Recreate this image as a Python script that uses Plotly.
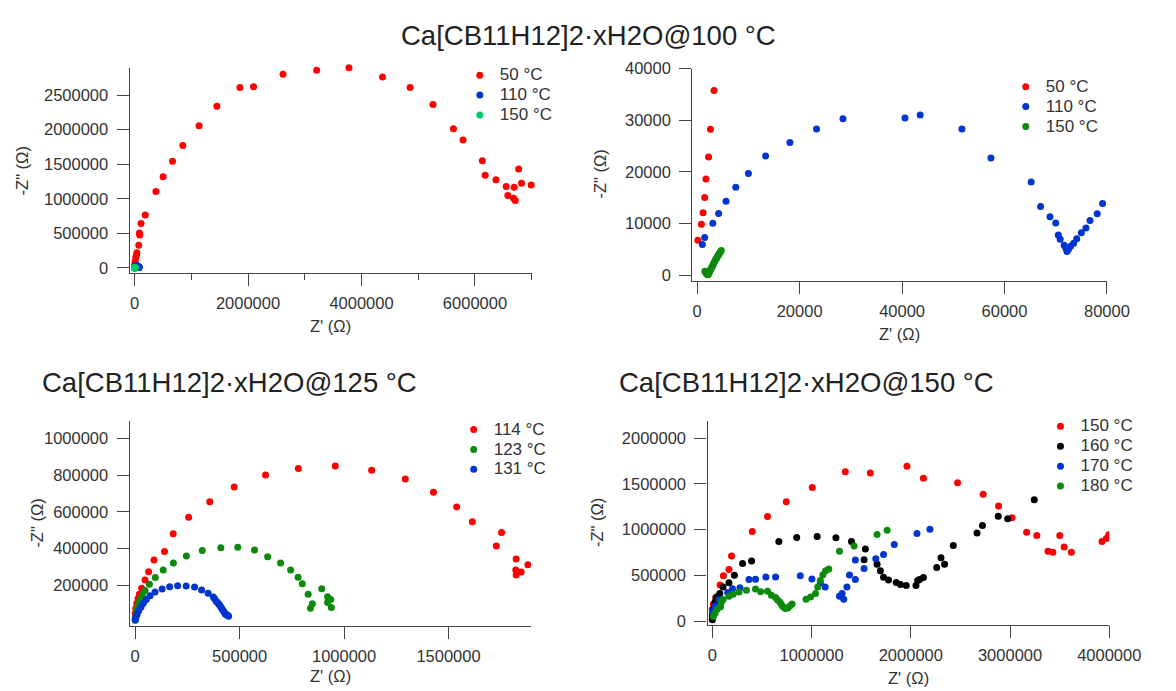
import plotly.graph_objects as go

# ---------------- data (Ohm) ----------------
# Ca[CB11H12]2.xH2O @100 C  (panels 1 and 2 share the data)
t50_zre = [130, 820, 1140, 1460, 1710, 2220, 2590, 3290,
           4600, 11000, 23000, 34000, 40000, 74000, 91000, 86000, 114000, 189000,
           377000, 503000, 669000, 851000, 1137000, 1451000, 1857000, 2097000,
           2617000, 3210000, 3780000, 4370000, 4857000, 5260000, 5620000, 5790000,
           6130000, 6180000, 6370000, 6550000, 6580000, 6690000, 6680000, 6710000,
           6770000, 6820000, 6990000]
t50_zim = [6770, 9870, 12090, 15060, 18610, 22910, 28290, 35760,
           48000, 95000, 152000, 186000, 219000, 329000, 476000, 505000, 643000, 767000,
           1105000, 1319000, 1543000, 1771000, 2057000, 2338000, 2610000, 2619000,
           2800000, 2857000, 2895000, 2760000, 2610000, 2363000, 2012000, 1851000,
           1548000, 1340000, 1274000, 1179000, 1046000, 1165000, 1008000, 975000,
           1430000, 1226000, 1198000]

t110_zre = [1010, 1460, 3040, 4180, 5630, 7530, 10000, 13350, 18100, 23300, 28460,
            40570, 43540, 51680, 57350, 65200, 67040, 68880, 70000, 70500, 70870,
            71650, 72000, 72200, 72500, 72900, 73500, 74100, 75000, 75900, 76700,
            78100, 79150]
t110_zim = [5950, 7280, 10060, 11960, 14300, 17030, 19680, 23100, 25700, 28300, 30320,
            30450, 31020, 28300, 22680, 18070, 13330, 11310, 10100, 7770, 6950,
            5810, 5180, 4610, 5050, 5620, 6190, 7070, 8210, 9160, 10610,
            11880, 13900]

t150_zre = [1500, 1650, 1800, 1950, 2050, 2150, 2250, 2350, 2450, 2600, 2750, 2900,
            3050, 3200, 3350, 3500, 3650, 3800, 3950, 4100, 4250, 4400, 4550, 4700]
t150_zim = [750, 550, 350, 200, 100, 150, 350, 550, 750, 1050, 1350, 1650,
            1950, 2250, 2550, 2800, 3100, 3350, 3600, 3850, 4100, 4350, 4550, 4800]

# Ca[CB11H12]2.xH2O @125 C
t114_zre = [0, 0, 3000, 8000, 14000, 20000, 31000, 47000, 64000, 90000, 140000, 182000,
            256000, 357000, 474000, 624000, 781000, 958000, 1132000, 1293000, 1428000,
            1539000, 1614000, 1754000, 1729000, 1824000, 1822000, 1824000, 1848000, 1880000]
t114_zim = [20000, 46000, 73000, 100000, 127000, 150000, 182000, 227000, 273000, 337000,
            384000, 480000, 570000, 655000, 736000, 802000, 837000, 850000, 827000, 780000,
            707000, 627000, 546000, 487000, 413000, 343000, 282000, 255000, 271000, 311000]

t123_zre = [0, 2000, 5000, 9000, 14000, 20000, 26000, 34000, 47000, 68000, 96000, 134000,
            183000, 245000, 321000, 410000, 491000, 571000, 634000, 696000, 744000, 780000,
            800000, 828000, 839000, 848000, 893000, 921000, 936000, 921000, 939000]
t123_zim = [7000, 23000, 43000, 64000, 86000, 107000, 127000, 146000, 170000, 204000, 241000,
            282000, 321000, 359000, 389000, 404000, 407000, 391000, 355000, 321000, 282000,
            243000, 207000, 150000, 73000, 98000, 180000, 136000, 121000, 104000, 77000]

t131_zre = [0, 3000, 9000, 17000, 28000, 39000, 53000, 71000, 95000, 129000, 165000, 203000,
            244000, 284000, 318000, 349000, 374000, 380000, 388000, 395000, 401000, 407000,
            413000, 418000, 424000, 428000, 432000, 438000, 444000, 447000]
t131_zim = [9000, 23000, 39000, 59000, 80000, 100000, 121000, 141000, 162000, 179000, 191000,
            196000, 195000, 189000, 173000, 155000, 134000, 125000, 112000, 103000, 95000, 85000,
            75000, 65000, 55000, 48000, 41000, 37000, 34000, 30000]

# Ca[CB11H12]2.xH2O @150 C
s150_zre = [0, 10000, 33000, 78000, 111000, 167000, 193000, 402000, 556000, 745000, 1007000,
            1340000, 1592000, 1961000, 2127000, 2471000, 2729000, 2884000, 3020000, 3167000,
            3270000, 3383000, 3431000, 3501000, 3545000, 3618000, 3927000, 3971000, 3995000]
s150_zim = [129000, 186000, 254000, 393000, 496000, 564000, 711000, 979000, 1143000, 1304000,
            1461000, 1632000, 1618000, 1693000, 1561000, 1511000, 1386000, 1258000, 1129000,
            971000, 935000, 763000, 753000, 935000, 810000, 753000, 871000, 903000, 943000]

s160_zre = [0, 0, 3000, 10000, 23000, 29000, 42000, 75000, 108000, 167000, 222000, 304000,
            395000, 670000, 850000, 1056000, 1245000, 1402000, 1542000, 1529000, 1660000,
            1693000, 1725000, 1775000, 1853000, 1895000, 1954000, 2052000, 2069000, 2088000,
            2127000, 2261000, 2304000, 2340000, 2428000, 2667000, 2722000, 2881000, 2976000,
            3244000]
s160_zim = [14000, 50000, 86000, 129000, 175000, 211000, 264000, 300000, 371000, 418000,
            500000, 629000, 657000, 871000, 914000, 925000, 911000, 871000, 789000, 671000,
            621000, 550000, 479000, 450000, 421000, 400000, 389000, 389000, 443000, 454000,
            475000, 586000, 693000, 621000, 825000, 964000, 1046000, 1147000, 1118000, 1326000]

s170_zre = [3000, 29000, 65000, 154000, 203000, 278000, 369000, 435000, 539000, 637000,
            886000, 1003000, 1088000, 1137000, 1281000, 1307000, 1324000, 1356000, 1382000,
            1441000, 1441000, 1529000, 1647000, 1725000, 1833000, 2062000, 2193000]
s170_zim = [104000, 164000, 236000, 311000, 354000, 364000, 454000, 457000, 482000, 482000,
            496000, 461000, 418000, 371000, 271000, 300000, 239000, 371000, 504000,
            454000, 668000, 575000, 682000, 729000, 836000, 957000, 1004000]

s180_zre = [10000, 26000, 49000, 82000, 92000, 108000, 167000, 209000, 268000, 343000, 435000,
            487000, 556000, 595000, 637000, 657000, 680000, 696000, 712000, 735000, 761000,
            781000, 804000, 944000, 990000, 1039000, 1062000, 1088000, 1114000, 1141000,
            1173000, 1281000, 1428000, 1660000, 1761000]
s180_zim = [50000, 86000, 129000, 157000, 211000, 236000, 271000, 293000, 318000, 336000,
            350000, 321000, 325000, 282000, 257000, 229000, 207000, 182000, 157000, 136000,
            143000, 164000, 186000, 239000, 264000, 300000, 371000, 443000, 507000, 550000,
            568000, 764000, 821000, 946000, 993000]

panel_titles = ["Ca[CB11H12]2·xH2O@100 °C", "Ca[CB11H12]2·xH2O@125 °C",
                "Ca[CB11H12]2·xH2O@150 °C"]
x_title = "Z' (Ω)"
y_title = '-Z" (Ω)'

# ---------------- styling ----------------
RED, BLUE, GREEN, LGREEN, BLACK = "#ff0000", "#0035d0", "#0b8a0b", "#00cc66", "#000000"
FONT = "Liberation Sans, Arial, sans-serif"
W, H = 1176, 691
MS = 7

fig = go.Figure()


def add(xs, ys, name, color, ax, legend, clip=True):
    fig.add_trace(go.Scatter(
        x=xs, y=ys, mode="markers", name=f"<span style='font-size:17px'>{name}</span>",
        marker=dict(color=color, size=MS, line=dict(width=0)),
        xaxis="x" + ax, yaxis="y" + ax, legend=legend, cliponaxis=clip))


add(t50_zre, t50_zim, "50 °C", RED, "", "legend", False)
add(t110_zre, t110_zim, "110 °C", BLUE, "", "legend", False)
add(t150_zre, t150_zim, "150 °C", LGREEN, "", "legend", False)

add(t50_zre, t50_zim, "50 °C", RED, "2", "legend2")
add(t110_zre, t110_zim, "110 °C", BLUE, "2", "legend2")
add(t150_zre, t150_zim, "150 °C", GREEN, "2", "legend2")

add(t114_zre, t114_zim, "114 °C", RED, "3", "legend3")
add(t123_zre, t123_zim, "123 °C", GREEN, "3", "legend3")
add(t131_zre, t131_zim, "131 °C", BLUE, "3", "legend3")

add(s150_zre, s150_zim, "150 °C", RED, "4", "legend4")
add(s160_zre, s160_zim, "160 °C", BLACK, "4", "legend4")
add(s170_zre, s170_zim, "170 °C", BLUE, "4", "legend4")
add(s180_zre, s180_zim, "180 °C", GREEN, "4", "legend4")

AX = dict(showline=True, linecolor="#444", linewidth=1.3, ticks="outside", ticklen=12,
          tickwidth=1.3, tickcolor="#444", showgrid=False, zeroline=False,
          tickformat="d",
          tickfont=dict(family=FONT, size=16.5, color="#333"))


def xa(dom, rng, dtick, anchor, **kw):
    d = dict(AX, domain=dom, range=rng, tick0=0, dtick=dtick, anchor=anchor,
             ticklabelstandoff=3)
    d.update(kw)
    return d


def ya(dom, rng, anchor, **kw):
    d = dict(AX, domain=dom, range=rng, anchor=anchor, ticklabelstandoff=5)
    d.update(kw)
    return d


def px(v):
    return v / W


def py(v):
    return 1 - v / H


fig.update_layout(
    width=W, height=H, margin=dict(l=0, r=0, t=0, b=0), autosize=False,
    paper_bgcolor="white", plot_bgcolor="white",
    font=dict(family=FONT, color="#333", size=16.5),
    xaxis=xa([px(133.3), px(546.6)], [-86000, 7000000], 2000000, "y",
             minor=dict(dtick=1000000, tick0=0, ticks="outside", ticklen=6,
                        tickwidth=1.3, tickcolor="#444", showgrid=False)),
    yaxis=ya([py(269.3), py(59.9)], [-71000, 2895000], "x", tick0=0, dtick=500000),
    xaxis2=xa([px(711.7), px(1137.9)], [-950, 80000], 20000, "y2"),
    yaxis2=ya([py(277.3), py(60.9)], [-1060, 40000], "x2", tick0=0, dtick=10000),
    xaxis3=xa([px(133.3), px(546.3)], [-26500, 1897000], 500000, "y3"),
    yaxis3=ya([py(629.3), py(421)], [-21400, 1094000], "x3", tickmode="array",
              tickvals=[200000, 400000, 600000, 800000, 1000000]),
    xaxis4=xa([px(727.3), px(1140.3)], [-49000, 4000000], 1000000, "y4"),
    yaxis4=ya([py(628.3), py(420.3)], [-38600, 2190000], "x4", tick0=0, dtick=500000),
)

LEG = dict(xanchor="left", yanchor="top", bgcolor="rgba(0,0,0,0)", borderwidth=0,
           font=dict(family=FONT, size=13, color="#333"), tracegroupgap=0,
           itemclick=False)
fig.update_layout(
    legend=dict(LEG, x=px(494.7 - 22), y=py(68.3 - 16)),
    legend2=dict(LEG, x=px(1055.9 - 22), y=py(80 - 16)),
    legend3=dict(LEG, x=px(488.4 - 22), y=py(430 - 16)),
    legend4=dict(LEG, x=px(1091.6 - 22), y=py(426.7 - 16)),
)

ann = []
TF = dict(family=FONT, size=27.5, color="#222")
ann.append(dict(text=panel_titles[0], x=px(605), y=py(27), font=TF))
ann.append(dict(text=panel_titles[1], x=px(235.6), y=py(381), font=TF))
ann.append(dict(text=panel_titles[2], x=px(829), y=py(381), font=TF))
AF = dict(family=FONT, size=16.5, color="#333")
for xc, yc in [(340, 323.3), (924.8, 331.7), (339.8, 681), (933.8, 683.3)]:
    ann.append(dict(text=x_title, x=px(xc), y=py(yc), font=AF))
for xc, yc in [(22.4, 165), (616.8, 169), (38.3, 525), (614.4, 524)]:
    ann.append(dict(text=y_title, x=px(xc), y=py(yc), font=AF, textangle=-90))
for a in ann:
    a.update(xref="paper", yref="paper", showarrow=False, xanchor="center", yanchor="middle")
fig.update_layout(annotations=ann)

fig.write_html("out.html")
